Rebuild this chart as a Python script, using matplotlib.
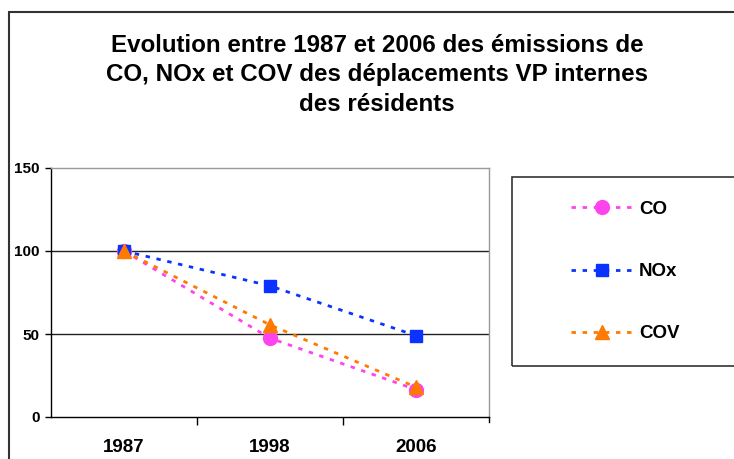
import matplotlib
matplotlib.use("Agg")
import matplotlib.pyplot as plt
from matplotlib.patches import Rectangle

plt.rcParams['font.family'] = ['Liberation Sans', 'DejaVu Sans']
plt.rcParams['font.weight'] = 'bold'

years = ["1987", "1998", "2006"]
co = [100, 47.5, 16.5]
nox = [100, 79, 49]
cov = [100, 55.5, 18]
series_names = ["CO", "NOx", "COV"]
colors = ["#FF44EE", "#0A33FF", "#FF7A00"]
markers = ["o", "s", "^"]
yticks = [0, 50, 100, 150]

W, H = 734, 459
fig = plt.figure(figsize=(W / 100, H / 100), dpi=100)

# figure frame
fig.patches.append(Rectangle((8.5 / W, -0.1), 1.2, 1 - 12 / H + 0.1,
                             transform=fig.transFigure, fill=False,
                             edgecolor="#333333", linewidth=1.5))

left, right = 51 / W, 489 / W
bottom, top = 1 - 417 / H, 1 - 168 / H
ax = fig.add_axes([left, bottom, right - left, top - bottom])

x = list(range(len(years)))
handles = []
for vals, name, c, m, ms in zip([co, nox, cov], series_names, colors, markers, [10, 9, 10]):
    ln, = ax.plot(x, vals, color=c, linewidth=2.0, linestyle=(0, (1.6, 2.4)),
                  marker=m, markersize=ms, markeredgecolor=c, markerfacecolor=c,
                  label=name)
    handles.append(ln)

ax.set_xlim(-0.5, 2.5)
ax.set_ylim(0, 150)
ax.set_yticks(yticks)
ax.set_yticklabels([str(v) for v in yticks], fontsize=11, fontweight='bold')
ax.set_xticks(x)
ax.set_xticklabels(years, fontsize=13.5, fontweight='bold')
ax.tick_params(axis='x', length=0, pad=15.5)
ax.set_xticks([0.5, 1.5], minor=True)
ax.tick_params(axis='x', which='minor', length=6, width=1, color='black', direction='out')
ax.tick_params(axis='y', length=4, width=1, direction='out', pad=4)
for yv in [50, 100]:
    ax.axhline(yv, color='#222222', linewidth=1, zorder=0)
ax.spines['left'].set_color('black')
ax.spines['bottom'].set_color('black')
ax.spines['top'].set_color('#999999')
ax.spines['right'].set_color('#999999')
for s in ax.spines.values():
    s.set_linewidth(1)
ax.plot([2.5, 2.5], [0, -3], color='black', linewidth=1, clip_on=False)

fig.text(377 / W, 1 - 75 / H,
         "Evolution entre 1987 et 2006 des émissions de\nCO, NOx et COV des déplacements VP internes\ndes résidents",
         ha='center', va='center', fontsize=17.4, fontweight='bold', linespacing=1.35)

# legend frame
fig.patches.append(Rectangle((512 / W, 1 - 366 / H), 0.5, (366 - 177) / H,
                             transform=fig.transFigure, fill=False,
                             edgecolor="#333333", linewidth=1.2))
leg = fig.legend(handles=handles, labels=series_names, loc='center left',
                 bbox_to_anchor=(562 / W, 1 - 271.5 / H), frameon=False,
                 fontsize=13.5, handlelength=3.3, labelspacing=2.4,
                 handletextpad=0.3, borderpad=0)
for t in leg.get_texts():
    t.set_fontweight('bold')

fig.savefig("out.png", dpi=100)
